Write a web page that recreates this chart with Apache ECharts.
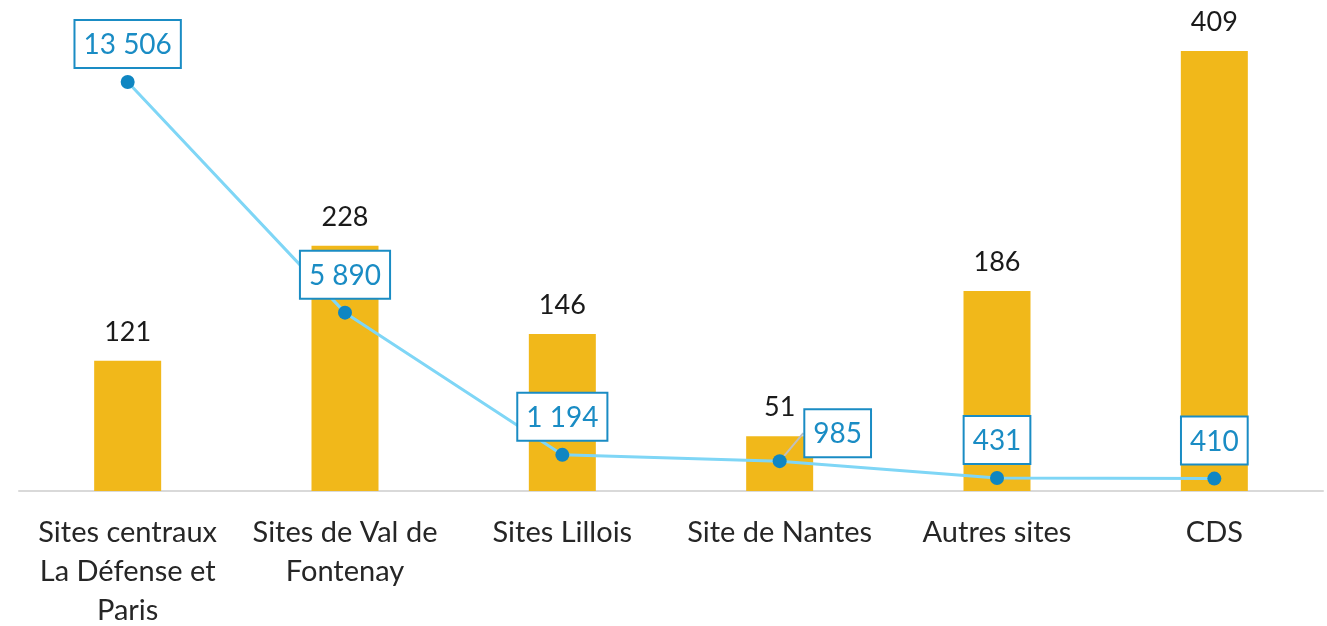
<!DOCTYPE html>
<html>
<head>
<meta charset="utf-8">
<script src="https://cdn.jsdelivr.net/npm/echarts@6/dist/echarts.min.js"></script>
<style>
  html, body { margin: 0; padding: 0; background: #fff; }
  #main { width: 1327px; height: 626px; }
</style>
</head>
<body>
<div id="main"></div>
<script>
// données
const categories = ['Sites centraux\nLa Défense et\nParis', 'Sites de Val de\nFontenay', 'Sites Lillois', 'Site de Nantes', 'Autres sites', 'CDS'];
const barValues = [121, 228, 146, 51, 186, 409];
const lineValues = [13506, 5890, 1194, 985, 431, 410];

const fmt = v => String(v).replace(/\B(?=(\d{3})+(?!\d))/g, ' ');

const myChart = echarts.init(document.getElementById('main'));

const option = {
  animation: false,
  textStyle: { fontFamily: 'Lato' },
  grid: { left: 19, right: 4, top: 51, height: 440, outerBoundsMode: 'none', containLabel: false },
  xAxis: {
    type: 'category',
    data: categories,
    axisTick: { show: false },
    axisLine: { lineStyle: { color: '#d9d9d9', width: 2 } },
    axisLabel: { color: '#262626', fontSize: 29, lineHeight: 39, margin: 22, interval: 0, fontFamily: 'Lato' }
  },
  yAxis: [
    { type: 'value', min: 0, max: 409, show: false },
    { type: 'value', min: 0, max: 14530, show: false }
  ],
  series: [
    {
      type: 'bar',
      data: barValues,
      barWidth: 67,
      itemStyle: { color: '#F1B81A' },
      label: { show: true, position: 'top', distance: 15, color: '#1a1a1a', fontSize: 27, fontFamily: 'Lato' },
      z: 1
    },
    {
      type: 'line',
      yAxisIndex: 1,
      data: lineValues.map((v, i) => i === 3 ? { value: v, labelLine: { show: true } } : v),
      symbol: 'circle',
      symbolSize: 14,
      lineStyle: { color: '#7fd6f6', width: 3 },
      itemStyle: { color: '#0f86c2' },
      label: {
        show: true, position: 'top', distance: 8,
        formatter: p => fmt(p.value),
        color: '#1a8cc4', fontSize: 28, fontFamily: 'Lato',
        backgroundColor: '#fff', borderColor: '#1a8cc4', borderWidth: 2,
        padding: [10, 8, 8, 8]
      },
      labelLine: { show: false, lineStyle: { color: '#bfbfbf', width: 2 } },
      // étiquette 985 décalée à droite, comme dans l'original
      labelLayout: p => p.dataIndex === 3 ? { dx: 58, dy: 10 } : {},
      z: 3
    }
  ]
};

option && myChart.setOption(option);
</script>
</body>
</html>
